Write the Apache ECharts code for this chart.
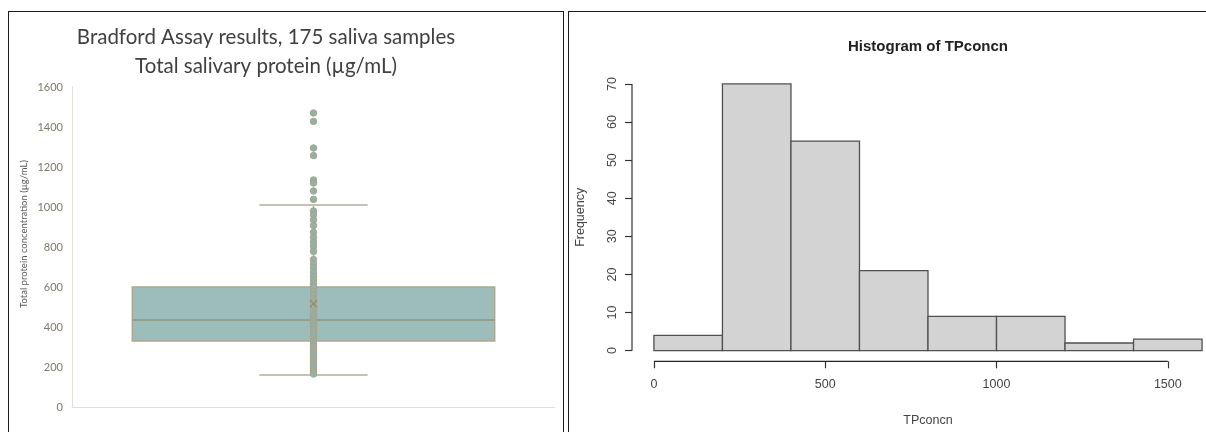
<!DOCTYPE html>
<html>
<head>
<meta charset="utf-8">
<script src="https://cdn.jsdelivr.net/npm/echarts@6/dist/echarts.min.js"></script>
<style>
  html, body { margin: 0; padding: 0; background: #ffffff; }
  #chart { position: absolute; left: 0; top: 0; width: 1206px; height: 432px; }
  .panel { position: absolute; border: 1.5px solid #1c1c1c; box-sizing: border-box; pointer-events: none; }
</style>
</head>
<body>
<div id="chart"></div>
<div class="panel" style="left:8px; top:11px; width:556px; height:440px;"></div>
<div class="panel" style="left:568px; top:11px; width:660px; height:440px;"></div>
<script>
// ---- Box plot: total salivary protein (µg/mL) ----
const boxCategories = [''];
const boxStats = [160, 330, 435, 600, 1010];   // lower whisker, Q1, median, Q3, upper whisker
const boxMean = 516;
const samplePoints = [
  1470, 1428, 1295, 1257, 1135, 1120, 1080, 1038,
  980, 960, 935, 907, 873, 848, 825, 803, 778, 737, 715, 695, 673, 653,
  635, 617, 600, 578, 561, 541, 528, 515, 502, 490, 477, 465, 452, 440,
  427, 415, 402, 390, 377, 365, 352, 340, 327, 315, 302, 290, 278, 265,
  252, 240, 228, 215, 203, 190, 178, 165
];
const boxYTicks = [0, 200, 400, 600, 800, 1000, 1200, 1400, 1600];

// ---- Histogram of TPconcn ----
const histBreaks = [0, 200, 400, 600, 800, 1000, 1200, 1400, 1600];
const histCounts = [4, 70, 55, 21, 9, 9, 2, 3];
const histXTicks = [0, 500, 1000, 1500];
const histYTicks = [0, 10, 20, 30, 40, 50, 60, 70];

// R-style axis limits: data range padded by 4% on each side
const xSpan = histBreaks[histBreaks.length - 1] - histBreaks[0];
const histXMin = histBreaks[0] - 0.04 * xSpan;
const histXMax = histBreaks[histBreaks.length - 1] + 0.04 * xSpan;
const ySpan = histYTicks[histYTicks.length - 1] - histYTicks[0];
const histYMin = histYTicks[0] - 0.04 * ySpan;
const histYMax = histYTicks[histYTicks.length - 1] + 0.04 * ySpan;

const boxFont = 'Lato, "Open Sans", sans-serif';
const rFont = '"Liberation Sans", Arial, sans-serif';
const plain = v => String(v);

const histBins = histCounts.map((c, i) => [histBreaks[i], histBreaks[i + 1], c]);

const chart = echarts.init(document.getElementById('chart'), null, { renderer: 'canvas' });

chart.setOption({
  animation: false,
  backgroundColor: 'transparent',
  graphic: [
    { type: 'text', x: 266, y: 37, style: { text: 'Bradford Assay results, 175 saliva samples', font: '20.5px ' + boxFont, fill: '#404040', textAlign: 'center', textVerticalAlign: 'middle', align: 'center', verticalAlign: 'middle' } },
    { type: 'text', x: 266, y: 66, style: { text: 'Total salivary protein (µg/mL)', font: '20.5px ' + boxFont, fill: '#404040', textAlign: 'center', textVerticalAlign: 'middle', align: 'center', verticalAlign: 'middle' } },
    { type: 'text', x: 24, y: 234, rotation: Math.PI / 2, style: { text: 'Total protein concentration (µg/mL)', font: '9.5px ' + boxFont, fill: '#595959', textAlign: 'center', textVerticalAlign: 'middle', align: 'center', verticalAlign: 'middle' } },
    { type: 'text', x: 928, y: 47, style: { text: 'Histogram of TPconcn', font: 'bold 15px ' + rFont, fill: '#222222', textAlign: 'center', textVerticalAlign: 'middle', align: 'center', verticalAlign: 'middle' } }
  ],
  grid: [
    { left: 72, top: 87, width: 483, height: 320, outerBoundsMode: 'none', containLabel: false },
    { left: 632, top: 73.3, width: 592, height: 288, outerBoundsMode: 'none', containLabel: false }
  ],
  xAxis: [
    {
      gridIndex: 0, type: 'category', data: boxCategories, boundaryGap: true,
      axisLine: { show: true, onZero: false, lineStyle: { color: '#e2dfd6', width: 1 } },
      axisTick: { show: false }, axisLabel: { show: false }, splitLine: { show: false }
    },
    {
      gridIndex: 1, type: 'value', min: histXMin, max: histXMax,
      axisLine: { show: false, onZero: false }, splitLine: { show: false },
      axisTick: { show: true, inside: false, customValues: histXTicks, length: 7, lineStyle: { color: '#333', width: 1.2 } },
      axisLabel: { show: true, customValues: histXTicks, formatter: plain, margin: 17, fontFamily: rFont, fontSize: 12.5, color: '#444' },
      name: 'TPconcn', nameLocation: 'middle', nameGap: 53,
      nameTextStyle: { fontFamily: rFont, fontSize: 12.5, color: '#444' }
    }
  ],
  yAxis: [
    {
      gridIndex: 0, type: 'value', min: 0, max: 1600, interval: 200,
      axisLine: { show: true, onZero: false, lineStyle: { color: '#e2dfd6', width: 1 } },
      axisTick: { show: false }, splitLine: { show: false },
      axisLabel: { margin: 9, formatter: plain, fontFamily: boxFont, fontSize: 11, color: '#7d786a' }
    },
    {
      gridIndex: 1, type: 'value', min: histYMin, max: histYMax,
      axisLine: { show: false, onZero: false }, splitLine: { show: false },
      axisTick: { show: true, inside: false, customValues: histYTicks, length: 7, lineStyle: { color: '#333', width: 1.2 } },
      axisLabel: { show: true, customValues: histYTicks, formatter: plain, rotate: 90, margin: 13, fontFamily: rFont, fontSize: 12.5, color: '#444' },
      name: 'Frequency', nameLocation: 'middle', nameGap: 45,
      nameTextStyle: { fontFamily: rFont, fontSize: 12.5, color: '#444' }
    }
  ],
  series: [
    {
      // box, whiskers and caps
      type: 'custom', xAxisIndex: 0, yAxisIndex: 0, z: 2,
      data: [[0].concat(boxStats)],
      renderItem: function (params, api) {
        const x = api.value(0);
        const lo = api.coord([x, api.value(1)]);
        const q1 = api.coord([x, api.value(2)]);
        const md = api.coord([x, api.value(3)]);
        const q3 = api.coord([x, api.value(4)]);
        const hi = api.coord([x, api.value(5)]);
        const band = api.size([1, 0])[0];
        const bw = band * 0.75, cw = band * 0.224;
        const cx = lo[0];
        const whisker = { stroke: '#b4b09c', lineWidth: 1.5 };
        const cap = { stroke: '#c6c2b3', lineWidth: 2.2 };
        return {
          type: 'group',
          children: [
            { type: 'line', shape: { x1: cx, y1: hi[1], x2: cx, y2: q3[1] }, style: whisker },
            { type: 'line', shape: { x1: cx, y1: q1[1], x2: cx, y2: lo[1] }, style: whisker },
            { type: 'line', shape: { x1: cx - cw / 2, y1: hi[1], x2: cx + cw / 2, y2: hi[1] }, style: cap },
            { type: 'line', shape: { x1: cx - cw / 2, y1: lo[1], x2: cx + cw / 2, y2: lo[1] }, style: cap },
            { type: 'rect', shape: { x: cx - bw / 2, y: q3[1], width: bw, height: q1[1] - q3[1] },
              style: { fill: '#9dbdbb', stroke: '#aba890', lineWidth: 1.6 } },
            { type: 'line', shape: { x1: cx - bw / 2, y1: md[1], x2: cx + bw / 2, y2: md[1] },
              style: { stroke: '#8f957f', lineWidth: 1.6 } }
          ]
        };
      }
    },
    {
      // individual samples
      type: 'scatter', xAxisIndex: 0, yAxisIndex: 0, z: 3,
      symbol: 'circle', symbolSize: 6.5,
      itemStyle: { color: '#8fb2af', borderColor: '#a8a48c', borderWidth: 1, opacity: 1 },
      data: samplePoints.map(v => [0, v])
    },
    {
      // mean marker
      type: 'scatter', xAxisIndex: 0, yAxisIndex: 0, z: 4,
      symbol: 'path://M1,0L5,4L9,0L10,1L6,5L10,9L9,10L5,6L1,10L0,9L4,5L0,1Z',
      symbolSize: 8,
      itemStyle: { color: '#8a8266' },
      data: [[0, boxMean]]
    },
    {
      // histogram bars
      type: 'custom', xAxisIndex: 1, yAxisIndex: 1, z: 2, clip: false,
      data: histBins,
      renderItem: function (params, api) {
        const p0 = api.coord([api.value(0), api.value(2)]);
        const p1 = api.coord([api.value(1), 0]);
        return {
          type: 'rect',
          shape: { x: p0[0], y: p0[1], width: p1[0] - p0[0], height: p1[1] - p0[1] },
          style: { fill: '#d3d3d3', stroke: '#505050', lineWidth: 1.3 }
        };
      }
    },
    {
      // R-style axis lines spanning first to last tick
      type: 'custom', xAxisIndex: 1, yAxisIndex: 1, z: 3, clip: false,
      data: [[0]],
      renderItem: function (params, api) {
        const xa = api.coord([histXTicks[0], histYMin]);
        const xb = api.coord([histXTicks[histXTicks.length - 1], histYMin]);
        const ya = api.coord([histXMin, histYTicks[0]]);
        const yb = api.coord([histXMin, histYTicks[histYTicks.length - 1]]);
        return {
          type: 'group',
          children: [
            { type: 'line', shape: { x1: xa[0], y1: xa[1], x2: xb[0], y2: xb[1] }, style: { stroke: '#222', lineWidth: 1.3 } },
            { type: 'line', shape: { x1: ya[0], y1: ya[1], x2: yb[0], y2: yb[1] }, style: { stroke: '#333', lineWidth: 1.2 } }
          ]
        };
      }
    }
  ]
});
</script>
</body>
</html>
